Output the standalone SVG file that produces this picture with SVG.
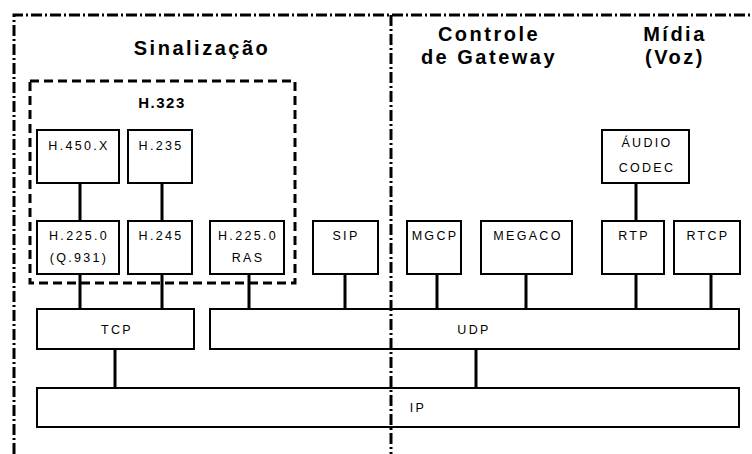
<svg xmlns="http://www.w3.org/2000/svg" width="752" height="454" viewBox="0 0 752 454">
<style>
.box{fill:#fff;stroke:#000;stroke-width:2}
.t{font-family:"Liberation Sans",Arial,sans-serif;font-size:12.5px;letter-spacing:2.3px;fill:#000;text-anchor:middle}
.h{font-family:"Liberation Sans",Arial,sans-serif;font-size:20px;font-weight:bold;letter-spacing:2.5px;fill:#000;text-anchor:middle}
.c{stroke:#000;stroke-width:3;fill:none}
.frame{stroke:#000;stroke-width:3;fill:none;stroke-dasharray:11 3 2 3}
</style>
<rect width="752" height="454" fill="#fff"/>
<g id="frame">
<path class="frame" d="M14,454 V15 H752"/>
</g>
<g id="titles">
<text class="h" x="202" y="55">Sinalização</text>
<text class="h" x="489" y="41">Controle</text>
<text class="h" x="489" y="64">de Gateway</text>
<text class="h" x="675" y="41">Mídia</text>
<text class="h" x="675" y="64">(Voz)</text>
</g>
<g id="h323">
<rect x="30" y="81" width="265" height="202" fill="none" stroke="#000" stroke-width="3" stroke-dasharray="9 5"/>
<text x="162" y="108" font-family="Liberation Sans, Arial, sans-serif" font-size="15" font-weight="bold" letter-spacing="1.5" text-anchor="middle">H.323</text>
</g>
<g id="connectors">
<path class="c" d="M80,183V221M162,183V221M636,183V221"/>
<path class="c" d="M80,274V309M162,274V309M249,274V309M345,274V309M437,274V309M526,274V309M636,274V309M711,274V309"/>
<path class="c" d="M115,349V388M476,349V388"/>
</g>
<g id="h450x"><rect class="box" x="37" y="130" width="82" height="53"/><text class="t" x="79" y="150">H.450.X</text></g>
<g id="h235"><rect class="box" x="128" y="130" width="64" height="53"/><text class="t" x="161" y="150">H.235</text></g>
<g id="h2250q931"><rect class="box" x="37" y="221" width="82" height="53"/><text class="t" x="79" y="240">H.225.0</text><text class="t" x="79" y="262">(Q.931)</text></g>
<g id="h245"><rect class="box" x="128" y="221" width="64" height="53"/><text class="t" x="161" y="240">H.245</text></g>
<g id="h2250ras"><rect class="box" x="210" y="221" width="74" height="53"/><text class="t" x="248" y="240">H.225.0</text><text class="t" x="248" y="262">RAS</text></g>
<g id="sip"><rect class="box" x="313" y="221" width="65" height="53"/><text class="t" x="346" y="240">SIP</text></g>
<g id="mgcp"><rect class="box" x="407" y="221" width="54" height="53"/><text class="t" x="435" y="240">MGCP</text></g>
<g id="megaco"><rect class="box" x="481" y="221" width="91" height="53"/><text class="t" x="528" y="240">MEGACO</text></g>
<g id="audiocodec"><rect class="box" x="602" y="130" width="87" height="53"/><text class="t" x="647" y="147">ÁUDIO</text><text class="t" x="647" y="172">CODEC</text></g>
<g id="rtp"><rect class="box" x="602" y="221" width="62" height="53"/><text class="t" x="634" y="240">RTP</text></g>
<g id="rtcp"><rect class="box" x="674" y="221" width="66" height="53"/><text class="t" x="708" y="240">RTCP</text></g>
<g id="tcp"><rect class="box" x="37" y="309" width="157" height="40"/><text class="t" x="117" y="334">TCP</text></g>
<g id="udp"><rect class="box" x="210" y="309" width="529" height="40"/><text class="t" x="474" y="334">UDP</text></g>
<g id="ip"><rect class="box" x="37" y="388" width="702" height="39"/><text class="t" x="418" y="412">IP</text></g>
<g id="divider">
<path class="frame" d="M391,15 V454"/>
</g>
</svg>
